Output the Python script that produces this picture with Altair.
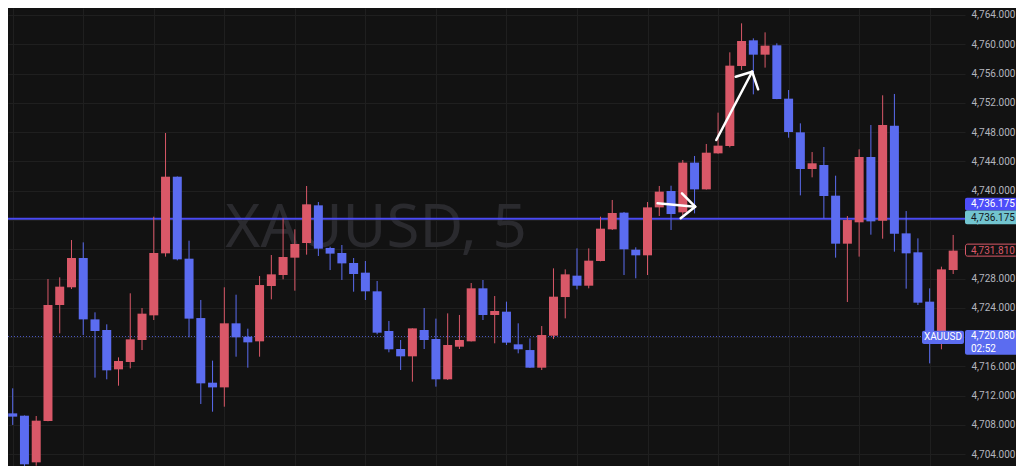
import altair as alt
import pandas as pd

# ---------------- data ----------------
candle_index = list(range(81))
opens = [4709.58, 4709.26, 4702.89, 4708.54, 4724.38, 4726.80, 4730.80, 4722.42, 4720.97, 4715.59,
         4716.60, 4719.60, 4722.97, 4731.44, 4741.91, 4730.71, 4722.60, 4713.77, 4713.13, 4721.88,
         4720.06, 4719.42, 4726.98, 4728.48, 4730.85, 4732.85, 4738.00, 4732.17, 4731.49, 4730.12,
         4728.80, 4726.25, 4720.83, 4718.37, 4717.37, 4720.97, 4719.74, 4714.23, 4718.69, 4719.42,
         4726.66, 4723.02, 4723.47, 4719.01, 4718.23, 4715.82, 4720.19, 4725.47, 4728.39, 4727.02,
         4730.39, 4734.72, 4737.00, 4731.94, 4731.17, 4737.72, 4739.96, 4737.04, 4743.83, 4740.18,
         4745.10, 4746.10, 4757.03, 4760.54, 4758.58, 4759.86, 4752.57, 4747.97, 4742.96, 4743.51,
         4739.32, 4732.76, 4735.68, 4744.60, 4735.90, 4748.88, 4734.17, 4731.58, 4724.84, 4720.40,
         4729.16]
highs = [4713.00, 4709.30, 4709.22, 4727.93, 4728.16, 4733.26, 4732.94, 4723.38, 4721.74, 4717.23,
         4725.98, 4723.97, 4736.45, 4747.88, 4741.95, 4733.17, 4725.07, 4716.78, 4726.80, 4725.79,
         4721.15, 4728.34, 4731.21, 4736.22, 4734.72, 4740.64, 4738.45, 4732.35, 4732.58, 4730.80,
         4730.39, 4727.66, 4722.20, 4719.60, 4721.19, 4723.97, 4722.52, 4723.24, 4723.02, 4727.39,
         4727.80, 4725.61, 4724.84, 4721.88, 4719.83, 4721.51, 4729.39, 4729.25, 4732.12, 4732.12,
         4736.45, 4738.73, 4737.09, 4732.26, 4738.45, 4740.64, 4740.68, 4744.19, 4744.74, 4746.38,
         4750.66, 4758.90, 4762.86, 4760.81, 4761.63, 4760.13, 4753.75, 4749.20, 4745.28, 4745.97,
         4742.05, 4736.54, 4745.65, 4748.97, 4753.03, 4753.21, 4737.22, 4733.49, 4726.66, 4729.62,
         4733.95]
lows = [4708.00, 4702.20, 4702.43, 4708.50, 4720.51, 4726.57, 4720.28, 4714.46, 4714.23, 4713.36,
        4715.73, 4718.23, 4722.33, 4730.99, 4730.48, 4719.97, 4710.86, 4709.81, 4710.49, 4717.32,
        4715.82, 4717.32, 4725.16, 4727.89, 4726.34, 4731.26, 4731.08, 4729.16, 4727.80, 4726.20,
        4725.07, 4720.38, 4717.92, 4715.50, 4713.91, 4718.37, 4713.23, 4714.14, 4718.37, 4719.40,
        4722.33, 4719.15, 4718.92, 4717.78, 4715.80, 4715.50, 4719.74, 4722.56, 4726.52, 4726.66,
        4730.35, 4734.63, 4728.48, 4728.03, 4728.48, 4736.54, 4734.63, 4736.68, 4736.90, 4740.15,
        4745.05, 4745.92, 4756.49, 4753.16, 4756.81, 4752.50, 4747.24, 4739.36, 4741.82, 4736.22,
        4730.85, 4724.79, 4730.99, 4733.99, 4733.44, 4731.67, 4726.61, 4724.38, 4716.41, 4718.33,
        4728.62]
closes = [4709.13, 4702.62, 4708.58, 4724.38, 4726.89, 4730.80, 4722.42, 4720.83, 4715.46, 4716.73,
          4719.69, 4723.20, 4731.49, 4741.91, 4730.62, 4722.52, 4713.68, 4713.13, 4721.88, 4719.97,
          4719.28, 4727.11, 4728.57, 4730.94, 4732.72, 4738.13, 4732.08, 4731.40, 4730.07, 4728.62,
          4726.25, 4720.60, 4718.33, 4717.37, 4721.19, 4719.60, 4714.23, 4718.92, 4719.60, 4726.66,
          4723.02, 4723.56, 4719.24, 4718.33, 4715.82, 4720.28, 4725.52, 4728.57, 4727.02, 4730.44,
          4734.81, 4736.95, 4731.99, 4731.17, 4737.72, 4739.87, 4736.81, 4743.83, 4740.18, 4745.19,
          4746.15, 4757.08, 4760.45, 4758.58, 4759.81, 4752.52, 4748.02, 4742.96, 4743.74, 4739.27,
          4732.76, 4735.99, 4744.60, 4735.81, 4748.97, 4734.13, 4731.44, 4724.70, 4720.30, 4729.25,
          4731.81]

price_ticks = list(range(4704, 4765, 4))
time_grid = list(range(0, 81, 6))

symbol = "XAUUSD"
watermark = "XAUUSD, 5"
level_price = 4736.175
last_close = 4731.81
current_price = 4720.08
countdown = "02:52"

# arrows drawn on the chart: (x0, y0) -> (x1, y1) in candle index / price
arrow_x0 = [54.85, 56.93, 56.82, 59.85, 61.50, 63.41]
arrow_y0 = [4738.28, 4739.64, 4736.23, 4746.92, 4755.57, 4753.85]
arrow_x1 = [58.05, 58.05, 58.05, 62.90, 62.90, 62.90]
arrow_y1 = [4737.81, 4737.81, 4737.81, 4756.25, 4756.25, 4756.25]

# ---------------- styling ----------------
BG = "#121212"
GRID = "#1f1f1f"
RED = "#d95868"
BLUE = "#5b6cf0"
LINE_BLUE = "#4a4af2"
BOX_BLUE = "#4d4dfa"
TEAL = "#72c4cf"
LABEL = "#b2b5be"
FONT = "Roboto"
FS = 10

W, H = 957, 458

df = pd.DataFrame({"i": candle_index, "open": opens, "high": highs, "low": lows, "close": closes})
df["dir"] = ["up" if c >= o else "down" for o, c in zip(opens, closes)]

x_scale = alt.Scale(domain=[0.025, 80.58], nice=False, zero=False)
y_scale = alt.Scale(domain=[4702.389, 4764.956], nice=False, zero=False)

xax = alt.Axis(values=time_grid, labels=False, ticks=False, domain=False, title=None,
               grid=True, gridColor=GRID, gridWidth=1)
yax = alt.Axis(orient="right", values=price_ticks, format=",.3f", labelColor=LABEL,
               labelFontSize=FS, labelFont=FONT, labelPadding=6, labelFlush=False,
               labelOverlap=False, ticks=False, domain=False, title=None, grid=True,
               gridColor=GRID, gridWidth=1)

color = alt.Color("dir:N", scale=alt.Scale(domain=["up", "down"], range=[RED, BLUE]), legend=None)

base = alt.Chart(df)

wm = alt.Chart(pd.DataFrame({"t": [watermark]})).mark_text(
    fontSize=60, font="Noto Sans", color="#2a2a2e", align="center", baseline="alphabetic"
).encode(text="t:N", x=alt.value(368), y=alt.value(239))

level = alt.Chart(pd.DataFrame({"p": [level_price]})).mark_rule(
    color=LINE_BLUE, strokeWidth=2
).encode(y=alt.Y("p:Q", scale=y_scale, axis=yax))

cur_line = alt.Chart(pd.DataFrame({"p": [current_price]})).mark_rule(
    color=BLUE, strokeWidth=1, strokeDash=[1, 2], opacity=0.8
).encode(y=alt.Y("p:Q", scale=y_scale, axis=yax), x=alt.value(0), x2=alt.value(914))

wicks = base.mark_rule(strokeWidth=1).encode(
    x=alt.X("i:Q", scale=x_scale, axis=xax),
    y=alt.Y("low:Q", scale=y_scale, axis=yax),
    y2="high:Q",
    color=color,
)
bodies = base.mark_bar(width=9).encode(
    x=alt.X("i:Q", scale=x_scale, axis=xax),
    y=alt.Y("open:Q", scale=y_scale, axis=yax),
    y2="close:Q",
    color=color,
)

arrows = alt.Chart(pd.DataFrame({"x0": arrow_x0, "y0": arrow_y0, "x1": arrow_x1, "y1": arrow_y1})).mark_rule(
    color="white", strokeWidth=2.5, strokeCap="round"
).encode(
    x=alt.X("x0:Q", scale=x_scale, axis=xax), y=alt.Y("y0:Q", scale=y_scale, axis=yax),
    x2="x1:Q", y2="y1:Q",
)


def box(price, x0, x1, top, bottom, fill, stroke=None):
    kw = dict(fill=fill, yOffset=top, y2Offset=bottom, cornerRadius=2)
    if stroke:
        kw["stroke"] = stroke
        kw["strokeWidth"] = 1
    return alt.Chart(pd.DataFrame({"p": [price]})).mark_rect(**kw).encode(
        y=alt.Y("p:Q", scale=y_scale, axis=yax), y2="p:Q", x=alt.value(x0), x2=alt.value(x1)
    )


def label(price, txt, x, dy, col, align="left"):
    return alt.Chart(pd.DataFrame({"p": [price], "t": [txt]})).mark_text(
        align=align, baseline="middle", dy=dy, color=col, fontSize=FS, font=FONT
    ).encode(y=alt.Y("p:Q", scale=y_scale, axis=yax), x=alt.value(x), text="t:N")


fmt = lambda v: f"{v:,.3f}"

labels = [
    box(level_price, 957, 1010, -21, -8.3, BOX_BLUE),
    label(level_price, fmt(level_price), 963, -15, "white"),
    box(level_price, 957, 1010, -8.3, 5.6, TEAL),
    label(level_price, fmt(level_price), 963, -1, "#131722"),
    box(last_close, 957.5, 1009.5, -6.5, 5.5, BG, RED),
    label(last_close, fmt(last_close), 963, 0, RED),
    box(current_price, 957, 1010, -6.5, 18.2, BLUE),
    label(current_price, fmt(current_price), 963, 0, "white"),
    label(current_price, countdown, 963, 12.5, "white"),
    box(current_price, 914, 956, -5.8, 7.5, BLUE),
    label(current_price, symbol, 935, 1, "white", align="center"),
]

chart = alt.layer(wm, level, cur_line, wicks, bodies, arrows, *labels).properties(
    width=W, height=H, background=BG,
    padding={"left": 0, "top": 0, "right": 51, "bottom": 0},
    autosize=alt.AutoSizeParams(type="none"),
).configure_view(strokeWidth=0)

chart.save("out.html", embed_options={"renderer": "svg", "actions": False})
